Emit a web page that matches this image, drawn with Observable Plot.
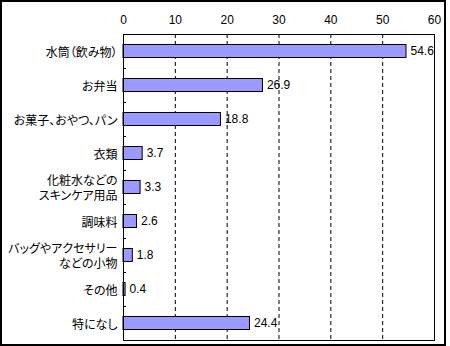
<!DOCTYPE html>
<html>
<head>
<meta charset="utf-8">
<script src="https://cdn.jsdelivr.net/npm/d3@7"></script>
<script src="https://cdn.jsdelivr.net/npm/@observablehq/plot@0.6"></script>
<style>
  html, body { margin: 0; padding: 0; background: #fff; }
  #box { width: 446px; height: 346px; box-sizing: border-box; border: 2px solid #000; overflow: hidden; }
  #box svg { display: block; }
  #box svg g[aria-label="y-axis tick label"] { font-feature-settings: "palt"; }
</style>
</head>
<body>
<div id="box"></div>
<script>
const categories = [
  "水筒（飲み物）",
  "お弁当",
  "お菓子、おやつ、パン",
  "衣類",
  "化粧水などの\nスキンケア用品",
  "調味料",
  "バッグやアクセサリー\nなどの小物",
  "その他",
  "特になし"
];
const values = [54.6, 26.9, 18.8, 3.7, 3.3, 2.6, 1.8, 0.4, 24.4];
const xTicks = [0, 10, 20, 30, 40, 50, 60];
const gridTicks = [10, 20, 30, 40, 50];

const data = categories.map((c, i) => ({category: c, value: values[i]}));

const W = 442, H = 342;
const mL = 121, mR = 10, mT = 32, mB = 4;
const plotW = W - mL - mR;
const step = (H - mT - mB) / categories.length;

const chart = Plot.plot({
  width: W,
  height: H,
  marginLeft: mL,
  marginRight: mR,
  marginTop: mT,
  marginBottom: mB,
  style: {fontFamily: "'Liberation Sans', Arial, 'Noto Sans CJK JP', sans-serif", fontSize: "12px", color: "#000", background: "#fff"},
  x: {domain: [0, 60]},
  y: {domain: categories, padding: 0},
  marks: [
    Plot.ruleX(gridTicks, {x: d => d, stroke: "#000", strokeDasharray: "4,3", strokeWidth: 1}),
    Plot.barX(data, {x: "value", y: "category", fill: "#9999ff", stroke: "#000", strokeWidth: 1, insetTop: 10.5, insetBottom: 10.5}),
    Plot.text(data, {x: "value", y: "category", text: d => d.value.toFixed(1), dx: 4, textAnchor: "start", fontSize: 12, fill: "#000"}),
    Plot.tickY(categories.slice(1), {y: d => d, dy: -step / 2, insetRight: plotW - 3, stroke: "#000"}),
    Plot.frame({stroke: "#000", strokeWidth: 1}),
    Plot.axisX({anchor: "top", ticks: xTicks, tickSize: 0, tickPadding: 11, fontSize: 12, label: null}),
    Plot.axisY({anchor: "left", tickSize: 0, tickPadding: 6, fontSize: 12, lineHeight: 1.3, label: null, fontFamily: "'Noto Sans CJK JP', sans-serif"})
  ]
});
document.getElementById("box").appendChild(chart);
</script>
</body>
</html>
